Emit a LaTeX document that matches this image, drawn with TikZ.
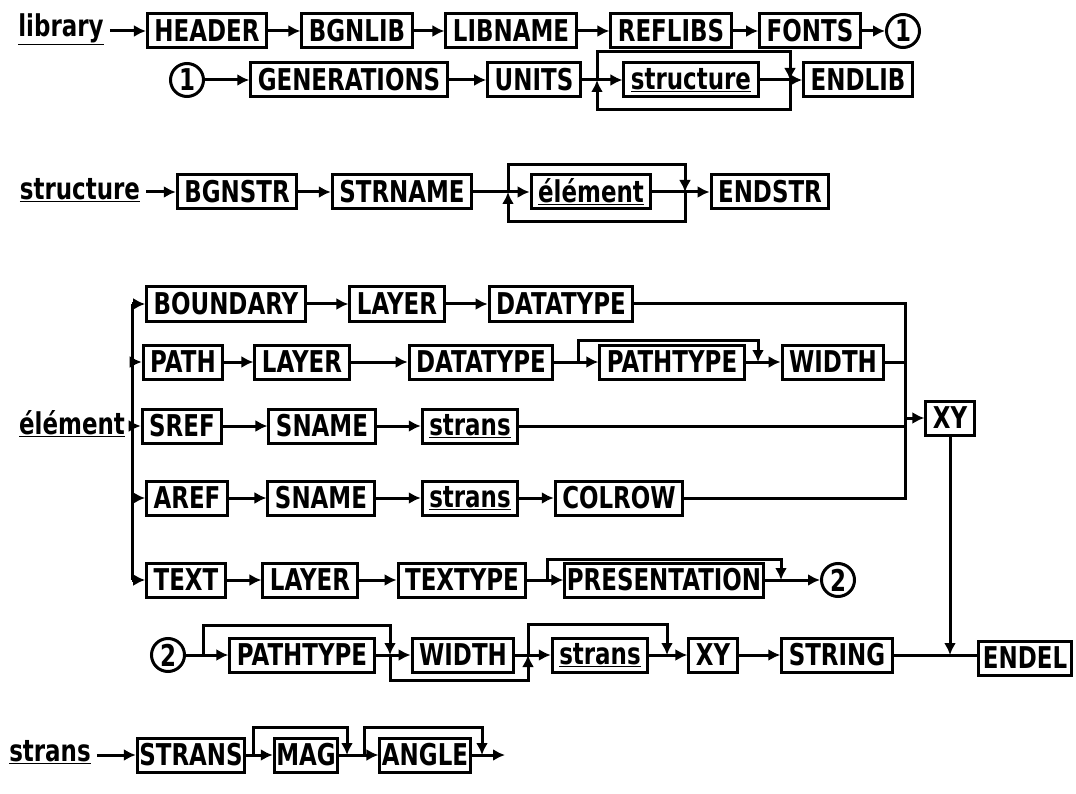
\documentclass[tikz,border=0pt]{standalone}
\usepackage{fontspec}
\setmainfont{DejaVu Sans}[FakeStretch=0.765]
\usetikzlibrary{arrows.meta}
\tikzset{
  box/.style={draw, line width=3pt, minimum height=34pt, inner xsep=7pt, inner ysep=2pt},
  circ/.style={draw, circle, line width=3pt, minimum size=33pt, inner sep=0pt},
  lbl/.style={inner sep=6pt},
  wire/.style={line width=3pt},
  flow/.style={wire, -{Latex[length=12pt,width=12pt]}},
}
\begin{document}
\begin{tikzpicture}[x=1pt, y=-1pt, font=\fontsize{30}{32}\selectfont\bfseries]
  \useasboundingbox (0,0) rectangle (1076,794);

  % --- library ---
  \node[lbl] (lib) at (61,29) {\underline{library}};
  \node[box] (hdr) at (207,31) {HEADER};
  \node[box] (bgnlib) at (357,31) {BGNLIB};
  \node[box] (libname) at (511,31) {LIBNAME};
  \node[box] (reflibs) at (671,31) {REFLIBS};
  \node[box] (fonts) at (810,31) {FONTS};
  \node[circ] (onea) at (903,31) {1};
  \draw[flow] (lib.east |- hdr) -- (hdr);
  \draw[flow] (hdr) -- (bgnlib);
  \draw[flow] (bgnlib) -- (libname);
  \draw[flow] (libname) -- (reflibs);
  \draw[flow] (reflibs) -- (fonts);
  \draw[flow] (fonts) -- (onea);

  \node[circ] (oneb) at (187,80) {1};
  \node[box] (gen) at (349,80) {GENERATIONS};
  \node[box] (units) at (534,80) {UNITS};
  \node[box] (strc) at (691,80) {\underline{structure}};
  \node[box] (endlib) at (858,80) {ENDLIB};
  \draw[flow] (oneb) -- (gen);
  \draw[flow] (gen) -- (units);
  \draw[flow] (units) -- (strc);
  \draw[flow] (strc) -- (endlib);
  % boucle structure
  \coordinate (sl) at (597,80);
  \coordinate (sr) at (790,80);
  \draw[flow] (sl) -- ++(0,-28) -| (sr);
  \draw[flow] (sr) -- ++(0,30) -| (sl);

  % --- structure ---
  \node[lbl] (str) at (80,190) {\underline{structure}};
  \node[box] (bgnstr) at (237,192) {BGNSTR};
  \node[box] (strname) at (402,192) {STRNAME};
  \node[box] (elm) at (591,192) {\underline{élément}};
  \node[box] (endstr) at (770,192) {ENDSTR};
  \draw[flow] (str.east |- bgnstr) -- (bgnstr);
  \draw[flow] (bgnstr) -- (strname);
  \draw[flow] (strname) -- (elm);
  \draw[flow] (elm) -- (endstr);
  % boucle element
  \coordinate (el) at (508,192);
  \coordinate (er) at (685,192);
  \draw[flow] (el) -- ++(0,-27) -| (er);
  \draw[flow] (er) -- ++(0,30) -| (el);

  % --- element ---
  \node[lbl] (elem) at (72,424) {\underline{élément}};
  \node[box] (bnd) at (226,304) {BOUNDARY};
  \node[box] (lyb) at (397,304) {LAYER};
  \node[box] (dtb) at (561,304) {DATATYPE};

  \node[box] (pth) at (183,362) {PATH};
  \node[box] (lyp) at (302,362) {LAYER};
  \node[box] (dtp) at (481,362) {DATATYPE};
  \node[box] (ptp) at (672,362) {PATHTYPE};
  \node[box] (wdp) at (833,362) {WIDTH};

  \node[box] (sref) at (182,426) {SREF};
  \node[box] (sns) at (322,426) {SNAME};
  \node[box] (sts) at (470,426) {\underline{strans}};

  \node[box] (aref) at (187,498) {AREF};
  \node[box] (sna) at (321,498) {SNAME};
  \node[box] (sta) at (470,498) {\underline{strans}};
  \node[box] (colrow) at (619,498) {COLROW};

  \node[box] (text) at (186,580) {TEXT};
  \node[box] (lyt) at (310,580) {LAYER};
  \node[box] (ttp) at (462,580) {TEXTYPE};
  \node[box, inner xsep=2pt] (pres) at (664,580) {PRESENTATION};
  \node[circ] (twoa) at (838,580) {2};

  \node[box] (xya) at (950,418) {XY};

  % tronc et branches
  \coordinate (trT) at (132,304);
  \coordinate (trB) at (132,580);
  \draw[wire] (trT) -- (trB);
  \draw[wire] (elem.east |- sref) -- (trT |- sref);
  \foreach \n in {bnd,pth,sref,aref,text}
    \draw[flow] (trT |- \n) -- (\n);

  \draw[flow] (bnd) -- (lyb);
  \draw[flow] (lyb) -- (dtb);
  \draw[flow] (pth) -- (lyp);
  \draw[flow] (lyp) -- (dtp);
  \draw[flow] (dtp) -- (ptp);
  \draw[flow] (ptp) -- (wdp);
  \draw[flow] (sref) -- (sns);
  \draw[flow] (sns) -- (sts);
  \draw[flow] (aref) -- (sna);
  \draw[flow] (sna) -- (sta);
  \draw[flow] (sta) -- (colrow);
  \draw[flow] (text) -- (lyt);
  \draw[flow] (lyt) -- (ttp);
  \draw[flow] (ttp) -- (pres);
  \draw[flow] (pres) -- (twoa);

  % options
  \coordinate (pl) at (578,362);
  \coordinate (pr) at (758,362);
  \draw[flow] (pl) -- ++(0,-22) -| (pr);
  \coordinate (tl) at (547,580);
  \coordinate (tr) at (781,580);
  \draw[flow] (tl) -- ++(0,-21) -| (tr);

  % collecteur vers XY
  \coordinate (colT) at (905,304);
  \draw[wire] (dtb) -- (colT) -- (colT |- colrow) -- (colrow);
  \draw[wire] (wdp) -- (colT |- wdp);
  \draw[wire] (sts) -- (colT |- sts);
  \draw[flow] (colT |- xya) -- (xya);

  % --- suite 2 ---
  \node[circ] (twob) at (168,655) {2};
  \node[box] (ptb) at (302,655) {PATHTYPE};
  \node[box] (wdb) at (463,655) {WIDTH};
  \node[box] (stb) at (600,655) {\underline{strans}};
  \node[box] (xyb) at (713,655) {XY};
  \node[box] (string) at (837,655) {STRING};
  \node[box, inner xsep=4pt] (endel) at (1025,658) {ENDEL};
  \draw[flow] (twob) -- (ptb);
  \draw[flow] (ptb) -- (wdb);
  \draw[flow] (wdb) -- (stb);
  \draw[flow] (stb) -- (xyb);
  \draw[flow] (xyb) -- (string);
  \draw[wire] (string) -- (string -| endel.west);
  \draw[flow] (xya) -- (xya |- string);

  \coordinate (q1) at (203,655);
  \coordinate (q2) at (390,655);
  \coordinate (q3) at (528,655);
  \coordinate (q4) at (667,655);
  \draw[flow] (q1) -- ++(0,-30) -| (q2);
  \draw[flow] (q2) -- ++(0,25) -| (q3);
  \draw[flow] (q3) -- ++(0,-31) -| (q4);

  % --- strans ---
  \node[lbl] (strn) at (50,752) {\underline{strans}};
  \node[box, inner xsep=2pt] (strans) at (191,755) {STRANS};
  \node[box, inner xsep=2pt] (mag) at (306,755) {MAG};
  \node[box, inner xsep=2pt] (angle) at (425,755) {ANGLE};
  \coordinate (send) at (505,755);
  \draw[flow] (strn.east |- strans) -- (strans);
  \draw[flow] (strans) -- (mag);
  \draw[flow] (mag) -- (angle);
  \draw[flow] (angle) -- (send);
  \coordinate (m1) at (253,755);
  \coordinate (m2) at (347,755);
  \coordinate (a1) at (364,755);
  \coordinate (a2) at (482,755);
  \draw[flow] (m1) -- ++(0,-28) -| (m2);
  \draw[flow] (a1) -- ++(0,-28) -| (a2);
\end{tikzpicture}
\end{document}
